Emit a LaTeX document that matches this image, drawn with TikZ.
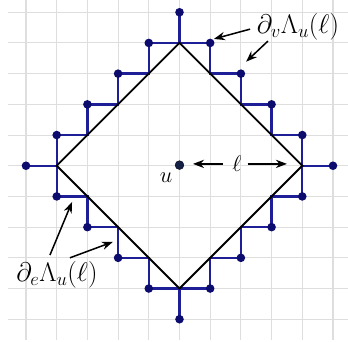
\documentclass[tikz,border=0pt]{standalone}
\usetikzlibrary{arrows.meta}
\definecolor{gridc}{RGB}{222,222,222}
\definecolor{bluel}{RGB}{30,30,150}
\definecolor{dotc}{RGB}{12,12,110}
\definecolor{uc}{RGB}{20,32,70}
\tikzset{
  gridline/.style={gridc, line width=1pt},
  bluepath/.style={bluel, line width=2.2pt, line join=miter},
  diamondline/.style={black, line width=1.7pt},
  bdot/.style={circle, fill=dotc, inner sep=0pt, minimum size=0.28cm},
  udot/.style={circle, fill=uc, draw=black, line width=0.3pt, inner sep=0pt, minimum size=0.29cm},
  pointer/.style={black, line width=1.4pt, -{Stealth[length=3.6mm,width=2.7mm]}},
  biglabel/.style={font=\fontsize{24}{27}\selectfont, inner sep=0pt},
  smalllabel/.style={font=\fontsize{21}{24}\selectfont, inner sep=0pt}
}
\begin{document}
\begin{tikzpicture}
\useasboundingbox (-5.847,-5.741) rectangle (5.489,5.399);
% grid
\foreach \k in {-5,...,5} {
  \draw[gridline] (-5.59,\k) -- (5.489,\k);
  \draw[gridline] (\k,5.399) -- (\k,-5.68);
}
% corners of the diamond
\coordinate (T) at (0,4);
\coordinate (R) at (4,0);
\coordinate (B) at (0,-4);
\coordinate (L) at (-4,0);
% blue edge boundary
\draw[bluepath] (1,4)--(1,3)--(2,3)--(2,2)--(3,2)--(3,1)--(4,1)--(4,-1)--(3,-1)--(3,-2)--(2,-2)--(2,-3)--(1,-3)--(1,-4)--(-1,-4)--(-1,-3)--(-2,-3)--(-2,-2)--(-3,-2)--(-3,-1)--(-4,-1)--(-4,1)--(-3,1)--(-3,2)--(-2,2)--(-2,3)--(-1,3)--(-1,4)--cycle;
% dots of the vertex boundary
\foreach \x/\y/\n in {0/5/n1,1/4/n2,2/3/n3,3/2/n4,4/1/n5,5/0/n6,4/-1/n7,3/-2/n8,2/-3/n9,1/-4/n10,0/-5/n11,-1/-4/n12,-2/-3/n13,-3/-2/n14,-4/-1/n15,-5/0/n16,-4/1/n17,-3/2/n18,-2/3/n19,-1/4/n20} {
  \coordinate (\n) at (\x,\y);
}
% spokes
\draw[bluepath] (T) -- (n1);
\draw[bluepath] (R) -- (n6);
\draw[bluepath] (B) -- (n11);
\draw[bluepath] (L) -- (n16);
% diamond
\draw[diamondline] (T) -- (R) -- (B) -- (L) -- cycle;
% dots on top
\foreach \n in {n1,n2,n3,n4,n5,n6,n7,n8,n9,n10,n11,n12,n13,n14,n15,n16,n17,n18,n19,n20} {
  \node[bdot] (d\n) at (\n) {};
}
% centre
\node[udot] (u) at (0,0.02) {};
\node[smalllabel] (ulab) at (-0.44,-0.40) {$u$};
\node[smalllabel] (ell) at (1.87,0.06) {$\ell$};
\coordinate (ellR) at (3.50,0.06);
\coordinate (ellL) at (0.44,0.06);
\coordinate (ellA) at (1.42,0.06);
\coordinate (ellB) at (2.22,0.06);
\draw[pointer] (ellA) -- (ellL);
\draw[pointer] (ellB) -- (ellR);
% labels
\node[biglabel] (dv) at (3.86,4.52) {$\partial_v\Lambda_u(\ell)$};
\node[biglabel] (de) at (-3.99,-3.56) {$\partial_e\Lambda_u(\ell)$};
\coordinate (a1s) at (2.30,4.45);
\coordinate (a1e) at (1.12,4.13);
\coordinate (a2s) at (2.88,4.06);
\coordinate (a2e) at (2.17,3.39);
\coordinate (a3s) at (-4.22,-2.91);
\coordinate (a3e) at (-3.50,-1.18);
\coordinate (a4s) at (-3.57,-3.00);
\coordinate (a4e) at (-2.17,-2.48);
\draw[pointer] (a1s) -- (a1e);
\draw[pointer] (a2s) -- (a2e);
\draw[pointer] (a3s) -- (a3e);
\draw[pointer] (a4s) -- (a4e);
\end{tikzpicture}
\end{document}
